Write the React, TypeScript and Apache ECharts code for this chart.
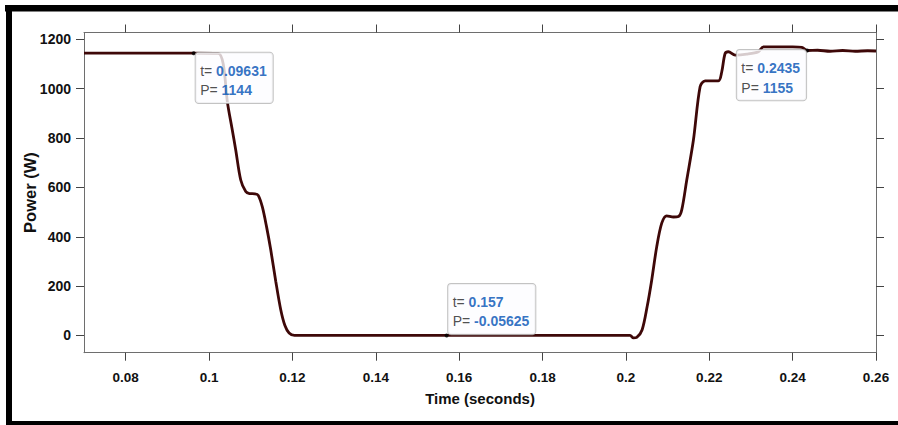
import React, { useEffect, useRef } from "react";
import * as echarts from "echarts";

// Time samples (s) and measured power (W)
const timeS = [
  0.07, 0.0963, 0.1022, 0.1034, 0.1044, 0.1055, 0.1064, 0.1076, 0.1088, 0.1097,
  0.111, 0.1118, 0.1128, 0.1138, 0.1148, 0.116, 0.1172, 0.1182, 0.1192, 0.1205,
  0.157, 0.201, 0.2018, 0.2026, 0.2039, 0.2051, 0.2062, 0.2074, 0.2086, 0.2098,
  0.2114, 0.2126, 0.2134, 0.2146, 0.2162, 0.2178, 0.219, 0.2222, 0.223, 0.2238,
  0.2246, 0.2262, 0.229, 0.2318, 0.233, 0.24, 0.2422, 0.2435, 0.246, 0.249,
  0.252, 0.255, 0.258, 0.26,
];
const powerW = [
  1144, 1144, 1143, 1100, 946, 840, 752, 630, 583, 575,
  574, 568, 520, 440, 347, 220, 104, 40, 10, 0,
  -0.05625, 0, -10, -8, 23, 117, 225, 360, 455, 485,
  480, 482, 509, 630, 792, 1008, 1032, 1032, 1069, 1143,
  1150, 1136, 1140, 1150, 1170, 1170, 1168, 1155, 1156, 1152,
  1155, 1152, 1154, 1153,
];

// Data tips: time, power
const tipTime = [0.09631, 0.157, 0.2435];
const tipPower = [1144, -0.05625, 1155];
const tipText = ["0.09631", "0.157", "0.2435"];
const tipPowerText = ["1144", "-0.05625", "1155"];

const xTicks = [0.08, 0.1, 0.12, 0.14, 0.16, 0.18, 0.2, 0.22, 0.24, 0.26];
const yTicks = [0, 200, 400, 600, 800, 1000, 1200];

const FONT = "'Liberation Sans', Arial, Helvetica, sans-serif";
const AXIS_GRAY = "#6e6e6e";

export default function App() {
  const ref = useRef<HTMLDivElement>(null);

  useEffect(() => {
    if (!ref.current) return;
    const chart = echarts.init(ref.current, undefined, { renderer: "svg" });

    // label box offsets relative to each marker
    const tipPlacement = [
      { position: [4, 1.6] },
      { position: [3.5, -49.4] },
      { position: [-68.4, 1.6] },
    ];

    const tipData = tipTime.map((t, i) => ({
      value: [t, tipPower[i]],
      label: {
        show: true,
        align: "left",
        verticalAlign: "top",
        ...tipPlacement[i],
        formatter: `{k|t= }{v|${tipText[i]}}\n{k|P= }{v|${tipPowerText[i]}}`,
      },
    }));

    const axisLine = { show: true, onZero: false, lineStyle: { color: AXIS_GRAY, width: 1 } };
    const tickStyle = { color: "#444", width: 1 };

    chart.setOption({
      animation: false,
      backgroundColor: "#ffffff",
      grid: {
        left: 84,
        right: 22,
        top: 32.5,
        bottom: 72.3,
        containLabel: false,
        outerBoundsMode: "none",
      },
      xAxis: [
        {
          type: "value",
          min: 0.07,
          max: 0.26,
          position: "bottom",
          axisLine,
          axisTick: { show: true, inside: false, length: 8, customValues: xTicks, lineStyle: tickStyle },
          axisLabel: {
            customValues: xTicks,
            formatter: (v: number) => String(+v.toFixed(2)),
            fontFamily: FONT,
            fontWeight: "bold",
            fontSize: 13.5,
            color: "#111",
            margin: 18,
          },
          splitLine: { show: false },
          name: "Time (seconds)",
          nameLocation: "middle",
          nameGap: 38,
          nameMoveOverlap: false,
          nameTextStyle: { fontFamily: FONT, fontWeight: "bold", fontSize: 15, color: "#111" },
        },
        {
          type: "value",
          min: 0.07,
          max: 0.26,
          position: "top",
          axisLine,
          axisTick: { show: true, inside: false, length: 8, customValues: xTicks, lineStyle: tickStyle },
          axisLabel: { show: false },
          splitLine: { show: false },
        },
      ],
      yAxis: [
        {
          type: "value",
          min: -70,
          max: 1228,
          position: "left",
          axisLine,
          axisTick: { show: true, inside: false, length: 8, customValues: yTicks, lineStyle: tickStyle },
          axisLabel: {
            customValues: yTicks,
            formatter: (v: number) => String(v),
            fontFamily: FONT,
            fontWeight: "bold",
            fontSize: 14,
            color: "#111",
            margin: 13,
          },
          splitLine: { show: false },
          name: "Power (W)",
          nameLocation: "middle",
          nameGap: 46,
          nameMoveOverlap: false,
          nameTextStyle: { fontFamily: FONT, fontWeight: "bold", fontSize: 16.5, color: "#111" },
        },
        {
          type: "value",
          min: -70,
          max: 1228,
          position: "right",
          axisLine,
          axisTick: { show: true, inside: false, length: 8, customValues: yTicks, lineStyle: tickStyle },
          axisLabel: { show: false },
          splitLine: { show: false },
        },
      ],
      series: [
        {
          type: "line",
          xAxisIndex: 0,
          yAxisIndex: 0,
          data: timeS.map((t, i) => [t, powerW[i]]),
          showSymbol: false,
          smooth: 0.3,
          lineStyle: { color: "#3e0808", width: 2.8 },
          z: 2,
        },
        {
          type: "scatter",
          xAxisIndex: 0,
          yAxisIndex: 0,
          data: tipData,
          symbolSize: 4,
          itemStyle: { color: "#000" },
          z: 5,
          label: {
            show: true,
            backgroundColor: "#fdfdff",
            borderColor: "#b4b4b4",
            borderWidth: 1,
            borderRadius: 3,
            padding: [8.5, 6, 3, 4.5],
            lineHeight: 19.3,
            rich: {
              k: { fontFamily: FONT, fontSize: 14, color: "#222", lineHeight: 19.3 },
              v: {
                fontFamily: FONT,
                fontSize: 14,
                fontWeight: "bold",
                color: "#0050b4",
                lineHeight: 19.3,
              },
            },
          },
        },
      ],
      graphic: [
        { type: "rect", shape: { x: 5, y: 5, width: 893, height: 6.5 }, style: { fill: "#000" }, z: 10 },
        { type: "rect", shape: { x: 6, y: 5, width: 6, height: 420 }, style: { fill: "#000" }, z: 10 },
        { type: "rect", shape: { x: 6, y: 421, width: 892, height: 4 }, style: { fill: "#000" }, z: 10 },
      ],
    });

    return () => chart.dispose();
  }, []);

  return (
    <div
      ref={ref}
      style={{ position: "absolute", left: 0, top: 0, width: 898, height: 425, background: "#fff" }}
    />
  );
}
